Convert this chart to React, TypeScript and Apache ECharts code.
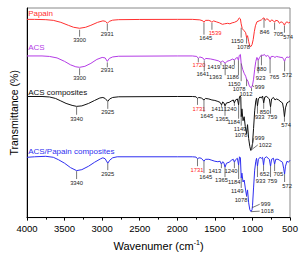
import React, { useEffect, useRef } from "react";
import * as echarts from "echarts";

const FONT = "Liberation Sans, Arial, sans-serif";

const papain: [number, number][] = [[4000,200.5],[3900,200.5],[3750,200.2],[3650,199.5],[3550,197.5],[3450,194.5],[3380,192.5],[3300,191.5],[3220,192.5],[3150,194.5],[3060,197.5],[2990,199],[2955,198.5],[2931,196.5],[2905,198.5],[2860,199.7],[2780,200.2],[2500,200.4],[2000,200.5],[1800,200.5],[1700,200],[1660,199],[1645,197.5],[1625,199.5],[1580,199.5],[1550,198.5],[1539,197.5],[1520,199],[1480,198],[1440,197],[1400,195.5],[1370,196],[1330,196.5],[1300,196],[1270,197],[1240,197.5],[1200,199],[1175,202],[1160,201],[1150,196],[1135,191],[1110,189],[1090,187],[1078,182],[1065,184],[1050,178],[1035,173.5],[1020,173],[1005,175],[990,180],[975,188],[960,194],[940,198],[910,199],[880,200],[860,201.5],[846,202],[830,199.5],[810,201],[790,200.5],[765,198],[745,200],[720,199],[705,197.5],[690,199.5],[660,199],[640,196.5],[620,198],[600,197.5],[585,196],[574,194.5],[560,197],[540,198],[520,197],[500,197.5]];

const acs: [number, number][] = [[4000,163.5],[3800,163.5],[3700,163],[3600,161.5],[3500,158],[3420,154.5],[3350,152.5],[3300,152],[3230,153],[3150,156],[3070,160],[3000,162],[2960,161.5],[2931,158],[2905,161],[2860,162.5],[2780,163.2],[2000,163.5],[1800,163.5],[1740,163],[1720,161],[1700,162.5],[1660,161.5],[1641,159.5],[1620,161],[1560,160.5],[1500,159.5],[1450,158.5],[1419,157],[1400,158.5],[1380,157.5],[1363,156],[1340,158],[1300,159],[1260,160.5],[1240,159],[1225,161],[1200,162],[1186,159],[1175,164],[1160,165],[1150,156],[1130,150],[1110,146],[1090,143],[1078,140],[1060,138],[1045,134],[1030,132],[1012,131.5],[999,134],[985,140],[970,150],[955,158],[940,162],[923,159],[905,162],[880,164.5],[860,164],[840,165],[820,163],[800,164],[780,163],[765,160],[750,163],[720,163],[700,162],[680,163],[650,162.5],[620,162],[600,162],[585,160],[572,158],[560,161],[540,162.5],[520,162],[500,163]];

const acsComposites: [number, number][] = [[4000,122.5],[3800,122.5],[3700,122],[3620,120.5],[3550,118],[3480,115.5],[3400,113.5],[3340,112.5],[3270,113],[3180,115.5],[3100,118.5],[3030,121],[2990,121.5],[2960,120.5],[2925,117.5],[2900,120],[2860,121.5],[2780,122.2],[2000,122.5],[1800,122.5],[1750,122.2],[1731,120.5],[1715,121.5],[1680,121],[1645,119],[1625,120.5],[1580,120],[1540,119],[1500,118.5],[1460,117.5],[1430,116.5],[1411,114],[1395,117],[1380,116],[1365,113],[1345,116],[1310,116.5],[1280,118],[1255,119],[1240,116],[1225,119],[1200,120],[1184,114],[1175,121],[1165,123],[1155,122],[1149,102],[1140,110],[1125,98],[1110,102],[1095,92],[1078,85],[1065,94],[1050,80],[1035,72],[1022,68],[1010,70],[999,75],[985,90],[970,108],[955,118],[945,121],[933,113],[920,120],[900,122],[880,121],[865,123],[850,116],[835,122],[810,122.5],[790,121],[775,120],[759,112],[745,120],[720,121.5],[700,119],[680,120],[650,119],[620,117],[600,116],[585,110],[574,102],[560,111],[540,116],[520,117],[500,118]];

const acsPapain: [number, number][] = [[4000,61],[3900,61.5],[3750,62],[3650,61],[3580,58.5],[3500,55],[3420,50.5],[3340,47.5],[3270,48.5],[3180,52],[3100,56],[3020,59.5],[2990,60.5],[2960,59.5],[2925,55],[2900,58],[2860,60.5],[2800,61.5],[2000,61.5],[1800,61.5],[1750,61.2],[1731,59.5],[1710,60.5],[1680,60],[1645,57],[1625,59],[1580,59],[1540,58],[1500,57],[1460,56.5],[1430,57],[1413,54],[1395,56.5],[1380,55.5],[1365,51],[1345,55],[1310,56],[1280,58],[1255,59],[1240,56],[1225,58.5],[1200,60],[1184,53],[1172,61.5],[1160,60.5],[1149,40],[1140,45],[1125,36],[1110,38],[1095,30],[1078,22],[1065,28],[1050,15],[1035,8],[1018,6],[1005,8],[999,12],[985,30],[970,48],[955,57],[945,60],[933,52],[920,59],[900,61],[880,60],[865,61],[852,53],[840,60],[815,61.5],[790,60],[775,59],[759,52],[745,59],[720,60],[705,54],[690,59],[660,59],[640,58],[620,57],[600,56],[585,50],[572,44],[560,52],[540,57],[520,56],[500,58]];

// [label, tick wavenumber, tick top, tick bottom, label wavenumber, label value, kind]
// kind: "" normal, "r" red label, "l" leader line (label left aligned)
type Ann = [string, number, number, number, number, number, string];

const papainPeaks: Ann[] = [
  ["3300", 3300, 190, 183, 3300, 180, ""],
  ["2931", 2931, 196, 189, 2931, 186, ""],
  ["1645", 1645, 197, 185, 1621, 182, ""],
  ["1539", 1539, 197, 190, 1497, 187, "r"],
  ["1150", 1150, 192, 182, 1203, 179, ""],
  ["1078", 1078, 182, 176, 1119, 173, ""],
  ["846", 846, 201, 192, 838, 188, ""],
  ["705", 705, 197, 190, 655, 186, ""],
  ["574", 574, 194, 187, 525, 183, ""],
];

const acsPeaks: Ann[] = [
  ["3300", 3300, 151, 144, 3300, 141, ""],
  ["2931", 2931, 157, 152, 2931, 149, ""],
  ["1720", 1720, 161, 157, 1712, 154, "r"],
  ["1641", 1641, 159, 148, 1660, 145, ""],
  ["1419", 1419, 157, 154, 1515, 152, ""],
  ["1363", 1363, 156, 144, 1491, 142, ""],
  ["1240", 1240, 159, 154, 1321, 152, ""],
  ["1186", 1186, 159, 144, 1262, 142, ""],
  ["1150", 1150, 156, 138, 1243, 135, ""],
  ["1078", 1078, 140, 133, 1177, 130, ""],
  ["1012", 1012, 131, 128, 1086, 125, ""],
  ["999", 1000, 134, 132, 982, 132, "l"],
  ["923", 923, 159, 146, 890, 141.5, ""],
  ["880", 880, 164, 154, 877, 150, ""],
  ["765", 765, 160, 146, 707, 142, ""],
  ["572", 572, 158, 148, 538, 144, ""],
];

const compositePeaks: Ann[] = [
  ["3340", 3340, 112, 104, 3340, 100, ""],
  ["2925", 2925, 117, 110, 2925, 107, ""],
  ["1731", 1731, 120, 114, 1712, 110, "r"],
  ["1645", 1645, 119, 107, 1608, 103, ""],
  ["1411", 1411, 114, 112, 1464, 110, ""],
  ["1240", 1240, 116, 113, 1295, 110, ""],
  ["1365", 1365, 113, 103, 1405, 100, ""],
  ["1184", 1184, 114, 100, 1250, 97, ""],
  ["1149", 1149, 102, 93, 1164, 90, ""],
  ["1078", 1078, 85, 85, 1151, 84, ""],
  ["999", 1010, 70, 80, 982, 80.5, "l"],
  ["1022", 1022, 68, 73.5, 929, 73.5, "l"],
  ["933", 933, 113, 105, 903, 102, ""],
  ["850", 850, 116, 110, 838, 107, ""],
  ["759", 759, 112, 105, 735, 102, ""],
  ["574", 574, 102, 97, 551, 94, ""],
];

const papainCompositePeaks: Ann[] = [
  ["3340", 3340, 47, 39, 3340, 35, ""],
  ["2925", 2925, 55, 48, 2925, 44, ""],
  ["1731", 1731, 59.5, 52, 1738, 48, "r"],
  ["1645", 1645, 57, 45, 1621, 41, ""],
  ["1413", 1413, 54, 50, 1500, 47, ""],
  ["1240", 1240, 56, 50, 1285, 47, ""],
  ["1365", 1365, 51, 41, 1412, 38, ""],
  ["1184", 1184, 53, 39, 1243, 36, ""],
  ["1149", 1149, 40, 30, 1203, 27, ""],
  ["1078", 1078, 22, 21, 1151, 18, ""],
  ["999", 1005, 10, 13.5, 903, 13.5, "l"],
  ["1018", 1018, 6, 6.5, 903, 6.5, "l"],
  ["933", 933, 52, 41, 890, 37, ""],
  ["652", 852, 53, 47, 838, 44, ""],
  ["705", 705, 54, 47, 655, 44, ""],
  ["759", 759, 52, 41, 735, 37, ""],
  ["572", 572, 44, 36, 538, 32, ""],
];

const allPeaks: Ann[] = [...papainPeaks, ...acsPeaks, ...compositePeaks, ...papainCompositePeaks];

const seriesNames = ["Papain", "ACS", "ACS composites", "ACS/Papain composites"];
const seriesColors = ["#ff3030", "#b43ce6", "#111111", "#2f2ff0"];
const seriesData = [papain, acs, acsComposites, acsPapain];
// name label anchor: [wavenumber, value]
const nameAnchors: [number, number][] = [[3985, 206], [3985, 172], [3985, 127], [3985, 67]];

export default function App() {
  const ref = useRef<HTMLDivElement>(null);
  useEffect(() => {
    document.body.style.margin = "0";
    const chart = echarts.init(ref.current!, undefined, { renderer: "svg" });
    const lineSeries = seriesData.map((d, i) => ({
      type: "line",
      name: seriesNames[i],
      data: d,
      showSymbol: false,
      symbol: "none",
      lineStyle: { color: seriesColors[i], width: 1 },
      itemStyle: { color: seriesColors[i] },
      z: 3,
    }));
    const option: any = {
      animation: false,
      grid: { left: 22, right: 11, top: 8, bottom: 36, show: true, borderColor: "#888", borderWidth: 1 },
      xAxis: {
        type: "value",
        min: 500,
        max: 4000,
        interval: 500,
        inverse: true,
        name: "Wavenumer (cm{s|-1})",
        nameLocation: "middle",
        nameGap: 20,
        nameTextStyle: {
          fontSize: 11, color: "#000", fontFamily: FONT,
          rich: { s: { fontSize: 7, color: "#000", fontFamily: FONT, padding: [0, 0, 7, 0] } },
        },
        axisLine: { show: true, lineStyle: { color: "#000", width: 1 } },
        axisTick: { show: true, inside: false, length: 3, lineStyle: { color: "#000" } },
        minorTick: { show: true, splitNumber: 2, length: 2, lineStyle: { color: "#000" } },
        axisLabel: { fontSize: 9.5, color: "#000", fontFamily: FONT, margin: 6, formatter: (v: number) => String(v) },
        splitLine: { show: false },
      },
      yAxis: {
        type: "value",
        min: 0,
        max: 212,
        name: "Transmittance (%)",
        nameLocation: "middle",
        nameGap: 8,
        nameTextStyle: { fontSize: 10.5, color: "#000", fontFamily: FONT },
        axisLine: { show: true, lineStyle: { color: "#000", width: 1 } },
        axisTick: { show: false },
        axisLabel: { show: false },
        splitLine: { show: false },
      },
      series: [
        ...lineSeries,
        {
          type: "custom",
          clip: false,
          z: 4,
          data: allPeaks.map((a) => [a[1], a[2], a[3], a[4], a[5]]),
          encode: { x: [0, 3], y: [1, 2, 4] },
          renderItem: (params: any, api: any) => {
            const a = allPeaks[params.dataIndex];
            const leader = a[6] === "l";
            const p1 = api.coord([a[1], a[2]]);
            const p2 = leader ? api.coord([a[4], a[5]]) : api.coord([a[1], a[3]]);
            const pl = api.coord([a[4], a[5]]);
            const children: any[] = [];
            if (Math.abs(p1[1] - p2[1]) > 0.5 || Math.abs(p1[0] - p2[0]) > 0.5) {
              children.push({
                type: "line",
                shape: { x1: p1[0], y1: p1[1], x2: p2[0], y2: p2[1] },
                style: { stroke: "#555", lineWidth: 0.8 },
              });
            }
            children.push({
              type: "text",
              x: pl[0] + (leader ? 1 : 0),
              y: pl[1],
              style: {
                text: a[0],
                fill: a[6] === "r" ? "#ff2020" : "#222",
                fontSize: 5.8,
                fontFamily: FONT,
                align: leader ? "left" : "center",
                verticalAlign: "middle",
              },
            });
            return { type: "group", children };
          },
        },
        {
          type: "custom",
          clip: false,
          z: 5,
          data: nameAnchors,
          renderItem: (params: any, api: any) => {
            const p = api.coord(nameAnchors[params.dataIndex]);
            return {
              type: "text",
              x: p[0],
              y: p[1],
              style: {
                text: seriesNames[params.dataIndex],
                fill: seriesColors[params.dataIndex],
                fontSize: 8,
                fontFamily: FONT,
                align: "left",
                verticalAlign: "middle",
              },
            };
          },
        },
      ],
    };
    chart.setOption(option);
    return () => chart.dispose();
  }, []);
  return <div ref={ref} style={{ width: 301, height: 256, position: "absolute", left: 0, top: 0 }} />;
}
